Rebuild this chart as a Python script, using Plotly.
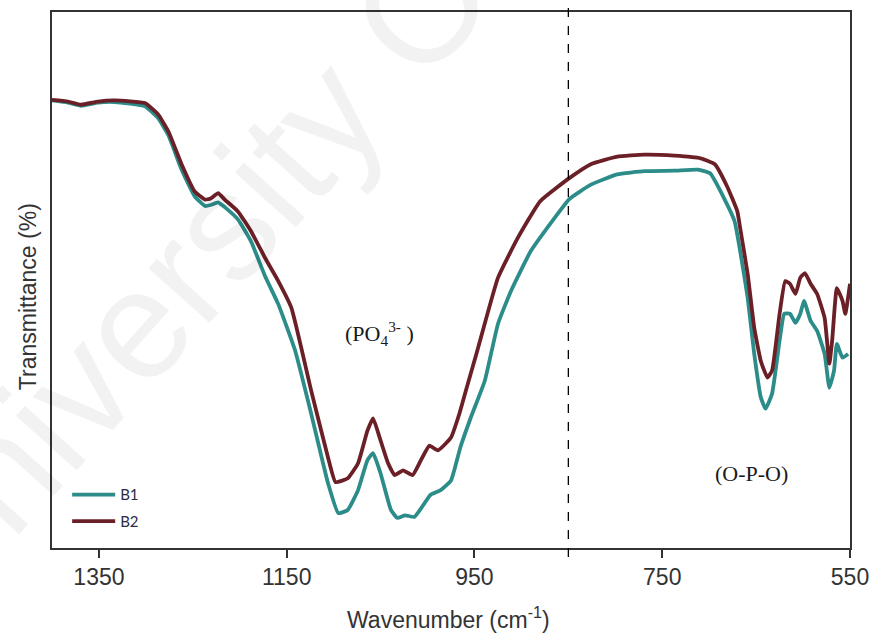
import plotly.graph_objects as go

# FTIR spectra of the two samples (transmittance, arbitrary % scale)
wn_b1 = [1400, 1383, 1369, 1351, 1333, 1301, 1287, 1276, 1262, 1248,
         1237, 1231, 1223, 1216, 1202, 1188, 1173, 1159, 1141, 1124,
         1106, 1095, 1085, 1074, 1064, 1058, 1050, 1039, 1032, 1024,
         1014, 1003, 997, 986, 975, 965, 954, 939, 925, 911,
         890, 865, 849, 826, 798, 769, 737, 712, 699, 684,
         673, 667, 659, 652, 645, 640, 633, 625, 620, 614,
         608, 603, 599, 592, 585, 577, 572, 567, 564, 558, 552]
t_b1 = [83.5, 83.1, 82.5, 83.1, 83.2, 82.4, 80.2, 77.0, 70.6, 65.6,
        63.8, 64.0, 64.5, 63.6, 61.3, 57.2, 50.7, 45.5, 36.8, 25.1,
        12.1, 6.5, 7.1, 10.8, 16.4, 17.7, 13.9, 7.1, 5.6, 6.1,
        5.8, 8.4, 9.9, 10.8, 12.6, 18.8, 24.3, 31.2, 41.8, 48.0,
        55.4, 61.5, 65.1, 67.8, 69.7, 70.3, 70.4, 70.6, 69.9, 65.2,
        61.0, 55.4, 46.7, 36.2, 28.1, 26.0, 28.8, 38.7, 43.7, 43.7,
        42.0, 43.7, 46.1, 42.4, 40.5, 36.2, 29.9, 33.1, 38.1, 35.5, 36.2]

wn_b2 = [1400, 1383, 1369, 1351, 1333, 1301, 1287, 1276, 1262, 1248,
         1237, 1231, 1223, 1216, 1202, 1188, 1173, 1159, 1145, 1124,
         1106, 1098, 1085, 1074, 1064, 1058, 1051, 1042, 1035, 1026,
         1016, 1007, 998, 989, 975, 966, 957, 947, 925, 904,
         880, 849, 826, 798, 769, 737, 709, 694, 681, 670,
         667, 659, 652, 645, 638, 633, 625, 619, 614, 608,
         603, 598, 592, 585, 577, 572, 569, 564, 558, 555, 550]
t_b2 = [83.6, 83.3, 82.7, 83.3, 83.5, 83.0, 80.9, 77.7, 71.6, 66.5,
        65.0, 65.2, 66.2, 65.0, 62.8, 59.1, 54.1, 49.8, 44.8, 29.4,
        16.9, 12.3, 13.0, 15.8, 21.9, 24.2, 20.6, 15.8, 13.6, 14.5,
        13.6, 16.4, 19.1, 18.2, 20.6, 25.1, 30.7, 36.8, 50.4, 57.8,
        64.7, 69.0, 71.6, 73.0, 73.4, 73.2, 72.7, 71.6, 67.5, 62.8,
        59.7, 51.1, 41.1, 34.9, 31.8, 33.1, 43.7, 49.8, 49.3, 47.4,
        50.4, 51.3, 49.3, 47.4, 42.9, 34.4, 38.7, 48.5, 46.1, 43.7, 49.3]

x_ticks = [1350, 1150, 950, 750, 550]
divider_wn = 850

series = [
    ("B1", wn_b1, t_b1, "#2b8c89"),
    ("B2", wn_b2, t_b2, "#6b1f26"),
]

fig = go.Figure()
for name, wn, t, color in series:
    fig.add_trace(go.Scatter(
        x=wn, y=t, name=name, mode="lines", legendgroup=name,
        line=dict(color=color, width=3.8, shape="spline", smoothing=0.4),
    ))

axis_color = "#333333"
fig.update_layout(
    width=879, height=641,
    margin=dict(l=52, r=26, t=10, b=93),
    paper_bgcolor="white", plot_bgcolor="white",
    font=dict(family="Liberation Sans, Arial, sans-serif", color="#333333"),
    showlegend=True,
    legend=dict(
        x=0.019, y=0.130, xanchor="left", yanchor="top",
        bgcolor="rgba(0,0,0,0)", borderwidth=0,
        font=dict(family="Lato, sans-serif", size=15, color="#2b2b45"),
        tracegroupgap=4, itemwidth=43,
    ),
    xaxis=dict(
        range=[1400, 550], tickvals=x_ticks, ticktext=[str(v) for v in x_ticks],
        ticks="outside", ticklen=8, tickwidth=1.5, tickcolor=axis_color,
        showline=True, mirror=True, linecolor=axis_color, linewidth=1.5,
        showgrid=False, zeroline=False,
        tickfont=dict(size=23, color="#333333"),
    ),
    yaxis=dict(
        range=[0, 100], showticklabels=False, ticks="",
        showline=True, mirror=True, linecolor=axis_color, linewidth=1.5,
        showgrid=False, zeroline=False,
    ),
)

# dashed divider between the PO4 stretching and O-P-O bending regions
fig.add_shape(type="line", xref="x", yref="paper",
              x0=divider_wn, x1=divider_wn, y0=-0.017, y1=1.019,
              line=dict(color="black", width=1.3, dash="dash"))

serif = "Liberation Serif, Times New Roman, serif"
annotations = [
    dict(text="Wavenumber (cm<sup>-1</sup>)", xref="paper", yref="paper",
         x=0.497, y=-0.130, xanchor="center", yanchor="middle", showarrow=False,
         font=dict(size=23, color="#333333")),
    dict(text="Transmittance (%)", xref="paper", yref="paper",
         x=-0.030, y=0.468, xanchor="center", yanchor="middle", showarrow=False,
         textangle=-90, font=dict(size=23, color="#333333")),
    dict(text="(PO<sub>4</sub><sup>3-</sup> )", xref="paper", yref="paper",
         x=(381 - 52) / 801, y=(548 - 333) / 538, xanchor="center", yanchor="middle",
         showarrow=False, font=dict(family=serif, size=22, color="#1a1a1a")),
    dict(text="(O-P-O)", xref="paper", yref="paper",
         x=(754 - 52) / 801, y=(548 - 473) / 538, xanchor="center", yanchor="middle",
         showarrow=False, font=dict(family=serif, size=22, color="#1a1a1a")),
    dict(text="University Of", xref="paper", yref="paper",
         x=(195 - 52) / 801, y=(548 - 258) / 538, xanchor="center", yanchor="middle",
         showarrow=False, textangle=-48,
         font=dict(family="Liberation Sans, Arial, sans-serif", size=155,
                   color="rgba(0,0,0,0.05)")),
]
fig.update_layout(annotations=annotations)

fig.write_html("out.html")
